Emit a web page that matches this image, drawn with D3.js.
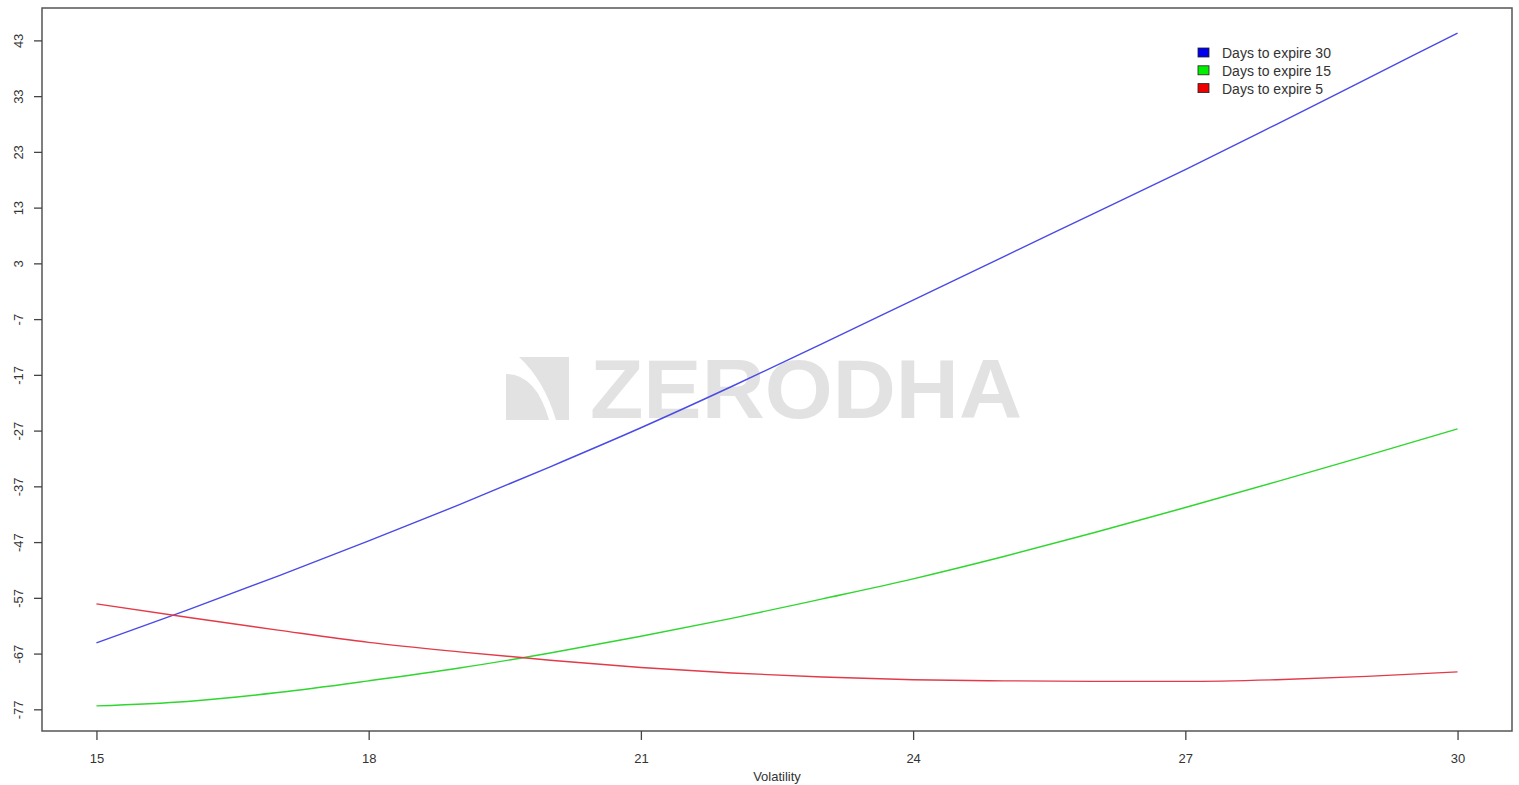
<!DOCTYPE html>
<html>
<head>
<meta charset="utf-8">
<script src="https://cdn.jsdelivr.net/npm/d3@7"></script>
<style>
  html, body { margin: 0; padding: 0; background: #fff; }
  svg { display: block; font-family: "Liberation Sans", Arial, sans-serif; }
  .axis path, .axis line { stroke: #444; stroke-width: 1.3; }
  .axis text { fill: #333; font-size: 13px; }
</style>
</head>
<body>
<svg id="chart" width="1519" height="785"></svg>
<script>
// volatility on the x axis
var volatility = [15, 16, 17, 18, 19, 20, 21, 22, 23, 24, 25, 26, 27, 28, 29, 30];
// values, one per volatility point
var expire30 = [-65.0, -59.1, -53.0, -46.7, -40.2, -33.4, -26.4, -19.0, -11.3, -3.5, 4.3, 12.1, 19.9, 28.0, 36.2, 44.4];
var expire15 = [-76.3, -75.5, -73.9, -71.8, -69.5, -66.8, -63.8, -60.6, -57.1, -53.5, -49.5, -45.2, -40.7, -36.1, -31.4, -26.6];
var expire5  = [-58.0, -60.4, -62.7, -64.9, -66.6, -68.1, -69.4, -70.4, -71.1, -71.6, -71.8, -71.9, -71.9, -71.6, -71.0, -70.2];
var xTicks = [15, 18, 21, 24, 27, 30];
var yTicks = [-77, -67, -57, -47, -37, -27, -17, -7, 3, 13, 23, 33, 43];
var seriesNames = ["Days to expire 30", "Days to expire 15", "Days to expire 5"];
var seriesColors = ["#4a4ae6", "#2fd62f", "#e23a48"];
var legendFill = ["#0000ee", "#00ee00", "#ee0000"];

var svg = d3.select("#chart");
var box = {left: 42, top: 8, right: 1512, bottom: 731};

var x = d3.scaleLinear().domain([14.4, 30.6]).range([box.left, box.right]);
var y = d3.scaleLinear().domain([-80.8, 48.9]).range([box.bottom, box.top]);

// watermark
var wm = svg.append("g").attr("fill", "#e2e2e2");
wm.append("path").attr("d", "M506,420 L506,374 Q536,374 549,420 Z");
wm.append("path").attr("d", "M519,357 L569,357 L569,420 L556,420 Q544,380 519,357 Z");
wm.append("text")
  .attr("x", 590).attr("y", 418)
  .attr("font-size", 84).attr("font-weight", "bold")
  .attr("textLength", 432).attr("lengthAdjust", "spacingAndGlyphs")
  .text("ZERODHA");

// frame
svg.append("rect")
  .attr("x", box.left).attr("y", box.top)
  .attr("width", box.right - box.left).attr("height", box.bottom - box.top)
  .attr("fill", "none").attr("stroke", "#555").attr("stroke-width", 1.5);

// axes
var yAxis = svg.append("g").attr("class", "axis")
  .attr("transform", "translate(" + box.left + ",0)")
  .call(d3.axisLeft(y).tickValues(yTicks).tickFormat(String).tickSize(8).tickSizeOuter(0).tickPadding(14));
yAxis.select(".domain").remove();
yAxis.selectAll("text")
  .attr("transform", function(d) { return "rotate(-90," + (-24) + "," + y(d) + ")"; })
  .attr("x", -24).attr("y", function(d) { return y(d); })
  .attr("dy", "0.35em")
  .style("text-anchor", "middle");
yAxis.selectAll(".tick").attr("transform", null);
yAxis.selectAll(".tick line").attr("y1", function(d) { return y(d); }).attr("y2", function(d) { return y(d); });

var xAxis = svg.append("g").attr("class", "axis")
  .attr("transform", "translate(0," + box.bottom + ")")
  .call(d3.axisBottom(x).tickValues(xTicks).tickFormat(String).tickSize(9).tickSizeOuter(0).tickPadding(14));
xAxis.select(".domain").remove();

svg.append("text")
  .attr("x", (box.left + box.right) / 2 + 0).attr("y", 781)
  .attr("text-anchor", "middle").attr("fill", "#333").attr("font-size", 13)
  .text("Volatility");

// lines
var line = d3.line()
  .x(function(d, i) { return x(volatility[i]); })
  .y(function(d) { return y(d); })
  .curve(d3.curveMonotoneX);

[expire30, expire15, expire5].forEach(function(s, k) {
  svg.append("path")
    .attr("d", line(s))
    .attr("fill", "none")
    .attr("stroke", seriesColors[k])
    .attr("stroke-width", 1.4);
});

// legend
var leg = svg.append("g").attr("transform", "translate(1198,48)");
seriesNames.forEach(function(n, i) {
  leg.append("rect")
    .attr("x", 0).attr("y", i * 17.8)
    .attr("width", 11).attr("height", 9)
    .attr("fill", legendFill[i]).attr("stroke", "#222").attr("stroke-width", 0.8);
  leg.append("text")
    .attr("x", 24).attr("y", i * 17.8 + 10)
    .attr("fill", "#333").attr("font-size", 14)
    .text(n);
});
</script>
</body>
</html>
